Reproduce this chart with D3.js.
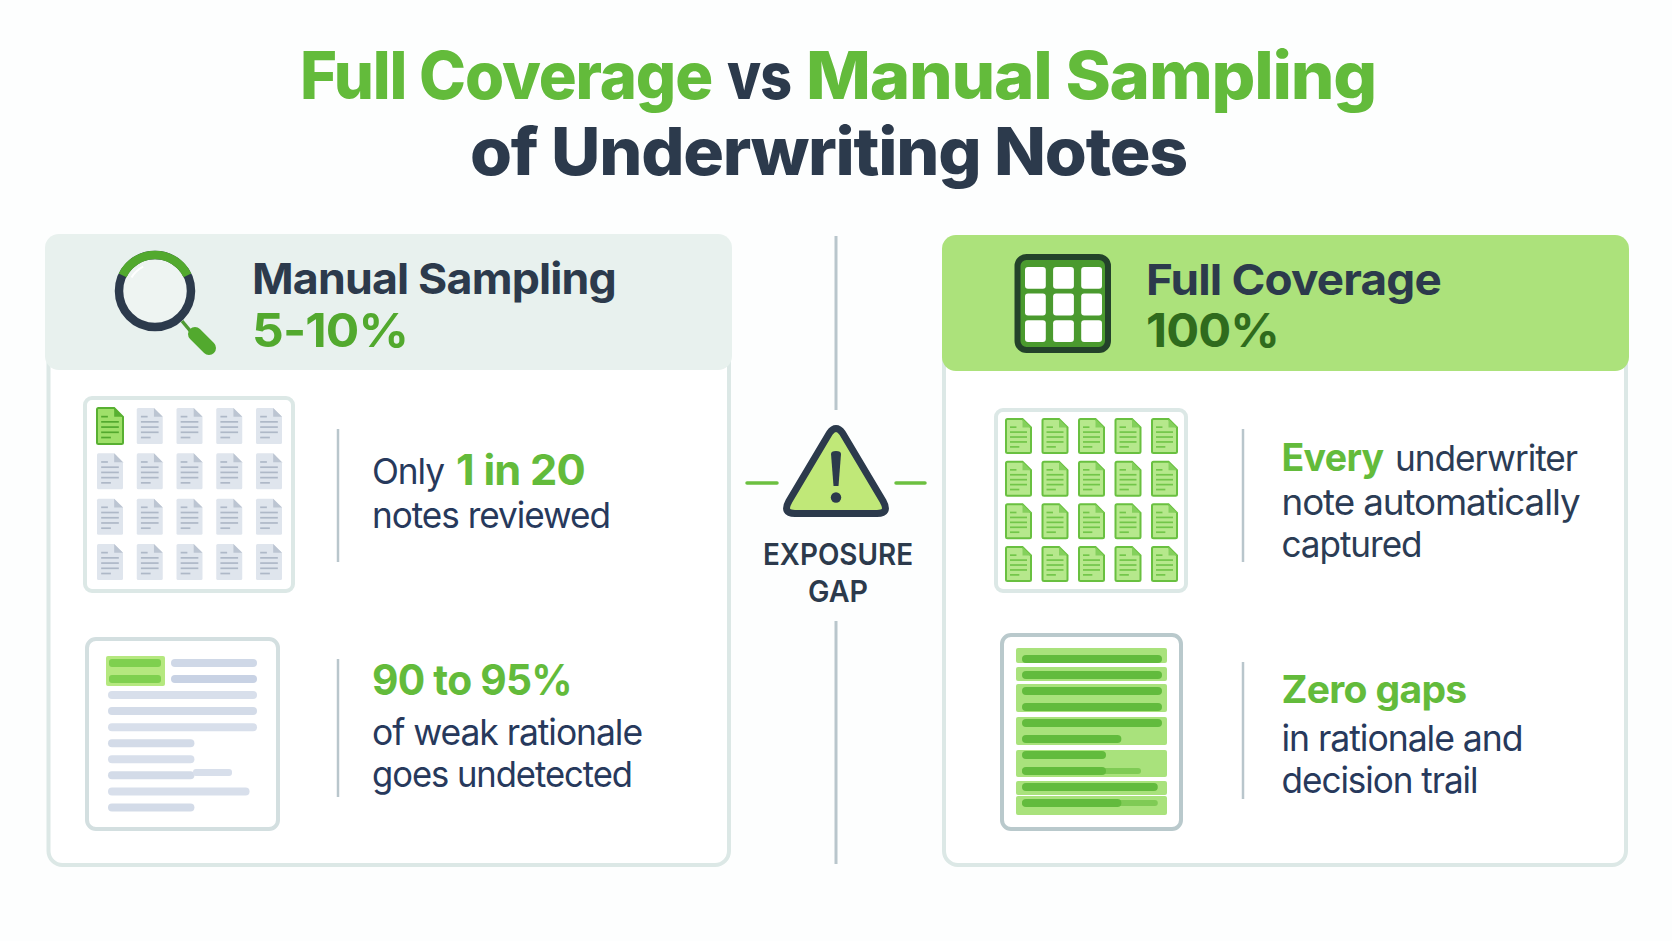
<!DOCTYPE html>
<html><head><meta charset="utf-8">
<script src="https://d3js.org/d3.v7.min.js"></script>
<style>html,body{margin:0;padding:0;background:#fdfefe}svg{display:block}text{font-family:Inter,"Noto Sans",sans-serif;letter-spacing:-0.03em}</style>
</head><body><svg id="c" width="1672" height="941"></svg>
<script>
const totalNotes = 20, gridColumns = 5;
const manualReviewedNotes = 1, fullReviewedNotes = 20;
const manualCoverage = "5-10%", fullCoverage = "100%";
const docLineLengths = [0.38, 1, 1, 1, 0.55];
// share of the text width of each line in the two page icons
const manualPageLines = [1, 1, 1, 0.58, 0.58, 0.58, 0.95, 0.58];
const fullPageLines = [1, 1, 1, 1, 1, 0.71, 0.6, 0.6, 0.97, 0.71];
const fullPageTails = [0, 0, 0, 0, 0, 0, 0, 0.85, 0, 0.97];

const PAL = {green:"#63bb3b", dgreen:"#52a92e", dark:"#2c3a4c", navy:"#27395c", slate:"#2b3c55",
  rule:"#b9c6cc", border:"#dce8e6", hdrL:"#e8f1ee", hdrR:"#ace27b"};
const svg = d3.select("#c");
svg.append("rect").attr("width",1672).attr("height",941).attr("fill","#fdfefe");
const defs = svg.append("defs");
defs.append("filter").attr("id","soft").append("feGaussianBlur").attr("stdDeviation",0.55);
const g = svg.append("g");

function txt(x,y,s,size,weight,fill,w,ls){
  const t=g.append("text").attr("x",x).attr("y",y).attr("font-size",size).attr("font-weight",weight)
    .attr("fill",fill).style("letter-spacing",ls!==undefined?ls:(weight>=700?"-0.018em":"-0.03em")).text(s);
  if(w) t.attr("textLength",w).attr("lengthAdjust","spacingAndGlyphs");
  return t;
}
function rr(p,x,y,w,h,r,fill,stroke,sw){
  return p.append("rect").attr("x",x).attr("y",y).attr("width",w).attr("height",h).attr("rx",r)
    .attr("fill",fill).attr("stroke",stroke||"none").attr("stroke-width",sw||0);
}
function vrule(x,y0,y1,sw){
  g.append("line").attr("x1",x).attr("x2",x).attr("y1",y0).attr("y2",y1)
   .attr("stroke",PAL.rule).attr("stroke-width",sw||2.5);
}

// Title
txt(300,99,"Full Coverage",66,800,PAL.green,412);
txt(727,99,"vs",66,800,PAL.dark,64);
txt(806,99,"Manual Sampling",66,800,PAL.green,570);
txt(470,175,"of Underwriting Notes",66,800,PAL.dark,717);

// Cards
rr(g,48.5,245,680.5,620,14,"#ffffff",PAL.border,4);
rr(g,944,245,682,620,14,"#ffffff",PAL.border,4);
rr(g,45,234,687,136,14,PAL.hdrL);
rr(g,942,235,687,136,14,PAL.hdrR);

// Magnifier
const mag = g.append("g").attr("transform","translate(155,291)");
mag.append("circle").attr("r",36).attr("fill","#eef4f2").attr("stroke",PAL.dark).attr("stroke-width",8.5);
mag.append("path").attr("d",d3.arc()({innerRadius:31.7,outerRadius:40.3,startAngle:-1.12,endAngle:1.12}))
   .attr("fill",PAL.dgreen);
mag.append("path").attr("d",d3.arc()({innerRadius:26,outerRadius:28,startAngle:-1.05,endAngle:-0.45}))
   .attr("fill","#ffffff");
g.append("line").attr("x1",182).attr("y1",321).attr("x2",192).attr("y2",333).attr("stroke","#4f9a33").attr("stroke-width",3.5);
g.append("line").attr("x1",195).attr("y1",334).attr("x2",209).attr("y2",348).attr("stroke",PAL.dgreen).attr("stroke-width",14).attr("stroke-linecap","round");

txt(252,294,"Manual Sampling",43,700,PAL.dark,364);
txt(252,347,manualCoverage,47,700,PAL.dgreen,156);

// Grid icon
rr(g,1017.5,257,90.5,93,9,"#4a9a2e","#23422a",6);
const cellX=d3.scaleBand().domain([0,1,2]).range([1025,1102]).paddingInner(0.26);
const cellY=d3.scaleBand().domain([0,1,2]).range([267,342]).paddingInner(0.18);
g.append("g").selectAll("rect").data(d3.cross([0,1,2],[0,1,2])).join("rect")
 .attr("x",d=>cellX(d[0])).attr("y",d=>cellY(d[1])).attr("width",cellX.bandwidth()).attr("height",cellY.bandwidth())
 .attr("rx",3).attr("fill","#ffffff");

txt(1146,295,"Full Coverage",43,700,PAL.dark,295);
txt(1146,347,fullCoverage,47,700,"#2f6b1d",133);

// Note grids
function noteGrid(colRange,rowRange,w,h,reviewed,style,on){
  const notes=d3.range(totalNotes).map(i=>({i,col:i%gridColumns,row:Math.floor(i/gridColumns),on:i<reviewed}));
  const x=d3.scalePoint().domain(d3.range(gridColumns)).range(colRange);
  const y=d3.scalePoint().domain(d3.range(totalNotes/gridColumns)).range(rowRange);
  const fold=w*0.34;
  const st=d=>d.on?on:style;
  const sel=g.append("g").attr("filter","url(#soft)").selectAll("g").data(notes).join("g")
    .attr("transform",d=>`translate(${x(d.col)},${y(d.row)})`);
  sel.append("path").attr("d",`M1.5 0H${w-fold}L${w} ${fold}V${h-1.5}Q${w} ${h} ${w-1.5} ${h}H1.5Q0 ${h} 0 ${h-1.5}V1.5Q0 0 1.5 0Z`)
    .attr("fill",d=>st(d).fill).attr("stroke",d=>st(d).stroke).attr("stroke-width",d=>st(d).sw);
  sel.append("path").attr("d",`M${w-fold} 0V${fold}H${w}Z`).attr("fill",d=>st(d).fold);
  const ly=d3.scalePoint().domain(d3.range(docLineLengths.length)).range([h*0.24,h*0.82]);
  const lx=d3.scaleLinear().domain([0,1]).range([w*0.16,w*0.84]);
  sel.each(function(d){
    d3.select(this).selectAll("line").data(docLineLengths).join("line")
      .attr("x1",lx(0)).attr("x2",v=>lx(v))
      .attr("y1",(v,i)=>ly(i)).attr("y2",(v,i)=>ly(i))
      .attr("stroke",st(d).line).attr("stroke-width",1.7);
  });
}
rr(g,85,398,208,193,7,"#ffffff",PAL.border,4);
noteGrid([97,256],[408,544],26,36,manualReviewedNotes,
  {fill:"#dfe5ed",stroke:"none",sw:0,fold:"#bcc5d2",line:"#aeb8c7"},
  {fill:"#9fe06a",stroke:"#58b030",sw:2,fold:"#58b030",line:"#52a92e"});
rr(g,996,410,190,181,7,"#ffffff",PAL.border,4);
noteGrid([1006,1152],[419,547],25,34,fullReviewedNotes,
  {fill:"#dfe5ed",stroke:"none",sw:0,fold:"#bcc5d2",line:"#aeb8c7"},
  {fill:"#b6e88c",stroke:"#69c03f",sw:2,fold:"#84d05c",line:"#72c64a"});

vrule(338,429,562);
txt(372,484,"Only",36,400,PAL.navy,72);
txt(456,485,"1 in 20",42,700,PAL.green,129);
txt(372,528,"notes reviewed",36,400,PAL.navy,238);

vrule(1243,429,562);
txt(1281.5,471,"Every",38,700,PAL.green,102);
txt(1395,471,"underwriter",36,400,PAL.slate,182);
txt(1281.5,515,"note automatically",36,400,PAL.slate,298);
txt(1281.5,556.5,"captured",36,400,PAL.slate,140);

// Manual page
rr(g,87,639,191,190,9,"#ffffff","#d3dfe0",4);
const mY=d3.scalePoint().domain(d3.range(manualPageLines.length)).range([695,807.5]);
const mW=d3.scaleLinear().domain([0,1]).range([0,149]);
const mg=g.append("g").attr("filter","url(#soft)");
rr(mg,106,656,59,30,2,"#b5e87f");
rr(mg,109,659,52,8,3,"#7fd04f");
rr(mg,109,675,52,8,3,"#7fd04f");
rr(mg,171,659,86,8,4,"#cfd8e7");
rr(mg,171,675,86,8,4,"#c8d2e4");
mg.selectAll("rect.l").data(manualPageLines).join("rect").attr("class","l")
  .attr("x",108).attr("y",(d,i)=>mY(i)-4).attr("width",d=>mW(d)).attr("height",8).attr("rx",4)
  .attr("fill",(d,i)=>i%2?"#d3dbe8":"#d8dfeb");
rr(mg,193,769,39,7,3,"#d8dfeb");
vrule(338,659,797);
txt(372,695,"90 to 95%",42,700,PAL.green,200);
txt(372,745,"of weak rationale",36,400,PAL.navy,270);
txt(372,787,"goes undetected",36,400,PAL.navy,260);

// Full page
rr(g,1002,635,179,194,9,"#ffffff","#b9c9cc",4);
const fg=g.append("g").attr("filter","url(#soft)");
const fullBlocks=[[648,663],[667,681],[684,712],[717,745],[750,777],[781,795],[796,815]];
fg.selectAll("rect.b").data(fullBlocks).join("rect").attr("class","b")
  .attr("x",1016).attr("width",151).attr("y",d=>d[0]).attr("height",d=>d[1]-d[0]).attr("rx",2).attr("fill","#a9e27c");
const fY=d3.scalePoint().domain(d3.range(fullPageLines.length)).range([659,803]);
const fW=d3.scaleLinear().domain([0,1]).range([0,140]);
fg.selectAll("rect.t").data(fullPageTails).join("rect").attr("class","t")
  .attr("x",1022).attr("y",(d,i)=>fY(i)-3).attr("width",d=>fW(d)).attr("height",6).attr("rx",3).attr("fill","#7fcb55");
fg.selectAll("rect.l").data(fullPageLines).join("rect").attr("class","l")
  .attr("x",1022).attr("y",(d,i)=>fY(i)-4).attr("width",d=>fW(d)).attr("height",8).attr("rx",4).attr("fill","#62bb3c");
vrule(1243,662,799);
txt(1281.5,703,"Zero gaps",38,700,PAL.green,185);
txt(1281.5,750.5,"in rationale and",36,400,PAL.navy,241);
txt(1281.5,792.5,"decision trail",36,400,PAL.navy,196);

// Center
vrule(836,236,410,3);
vrule(836,621,864,3);
g.append("path").attr("d","M829.5 433Q836 424 842.5 433L883 501Q890 513.5 877 513.5H795Q782 513.5 789 501Z")
 .attr("fill","#c0e878").attr("stroke",PAL.dark).attr("stroke-width",7).attr("stroke-linejoin","round");
g.append("path").attr("d","M831 454Q831 451 836 451Q841 451 841 454L838.5 486H833.5Z").attr("fill",PAL.dark);
g.append("circle").attr("cx",836).attr("cy",497.5).attr("r",5.2).attr("fill",PAL.dark);
[[747,777],[896,925]].forEach(d=>g.append("line").attr("x1",d[0]).attr("x2",d[1]).attr("y1",483).attr("y2",483)
  .attr("stroke","#6cc040").attr("stroke-width",3.5).attr("stroke-linecap","round"));
txt(763,565,"EXPOSURE",30,600,PAL.dark,150,"0");
txt(808,601.5,"GAP",30,600,PAL.dark,60,"0");
</script></body></html>
